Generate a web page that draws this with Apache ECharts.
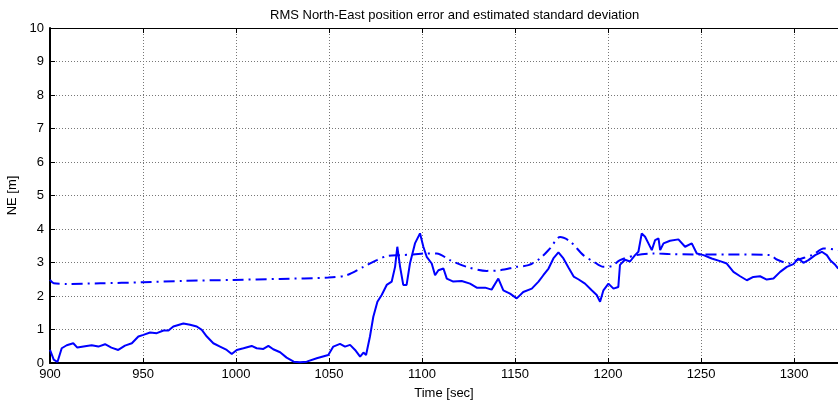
<!DOCTYPE html>
<html>
<head>
<meta charset="utf-8">
<script src="https://cdn.jsdelivr.net/npm/echarts@6/dist/echarts.min.js"></script>
<style>html,body{margin:0;padding:0;background:#fff;}#c{width:838px;height:400px;}</style>
</head>
<body>
<div id="c"></div>
<script>
// RMS North-East position error (solid)
var errTime = [900,902,902.7,904,906.3,909,912.5,914.7,919.7,922.4,926,929.6,933,936.7,940.3,944,947.5,950.2,953.8,957.4,961,963.7,966.3,971.7,975.3,978.9,981.6,984.3,987.8,991.4,995,997.7,1000.4,1004,1008.4,1011.1,1014.7,1017.4,1020,1023.7,1027.2,1031,1034.4,1038,1043.4,1049.6,1052.3,1055.9,1058.6,1061.3,1064,1066.7,1068.5,1069.9,1072,1073.8,1076,1078.3,1081,1083.7,1085.5,1086.7,1088.2,1089.9,1091.7,1093.5,1096.2,1098.9,1100.7,1102.5,1105.2,1107,1108.8,1111.5,1113.3,1116.8,1121.3,1125.8,1129.4,1133.9,1137.4,1141,1143.7,1147.3,1150.9,1154.4,1159,1162.6,1165.2,1168,1170.6,1173.3,1176,1178.7,1181.5,1184,1187.6,1191.2,1193.9,1195.7,1197.5,1200.2,1202.9,1205.5,1206.4,1209.1,1211.8,1214.5,1216.3,1218.1,1219.9,1221.7,1223.5,1225.3,1227.1,1228,1229.8,1233.3,1237.8,1241.4,1245,1247.7,1251.3,1255.7,1260.2,1263.8,1267.4,1271,1274.6,1278.1,1281.7,1285.3,1288.9,1292.5,1296.1,1299.6,1302.3,1305,1307.7,1311.3,1314.9,1317.6,1319.4,1322.1,1323.7];
var errValue = [0.39,0.1,0.05,0.03,0.44,0.53,0.59,0.46,0.51,0.53,0.49,0.56,0.46,0.39,0.52,0.59,0.79,0.84,0.91,0.89,0.97,0.97,1.09,1.18,1.14,1.09,0.99,0.79,0.59,0.49,0.39,0.27,0.39,0.44,0.51,0.44,0.42,0.51,0.41,0.32,0.16,0.04,0.02,0.04,0.14,0.24,0.49,0.57,0.49,0.54,0.39,0.19,0.31,0.24,0.79,1.38,1.83,2.03,2.33,2.43,2.87,3.47,2.87,2.33,2.33,2.97,3.57,3.87,3.47,3.17,2.97,2.62,2.77,2.82,2.52,2.43,2.45,2.37,2.25,2.25,2.19,2.52,2.17,2.07,1.93,2.12,2.22,2.43,2.62,2.82,3.12,3.3,3.12,2.85,2.58,2.5,2.37,2.17,2.03,1.83,2.17,2.37,2.22,2.27,2.93,3.08,3.03,3.22,3.32,3.87,3.77,3.57,3.37,3.67,3.72,3.37,3.57,3.65,3.69,3.47,3.57,3.27,3.22,3.12,3.04,2.97,2.72,2.59,2.47,2.57,2.59,2.49,2.52,2.72,2.87,2.95,3.12,2.99,3.07,3.22,3.32,3.22,3.07,2.93,2.82];
// Estimated standard deviation (dash-dot)
var stdTime = [900,902,909,927,950,971.7,998.6,1023.7,1049.6,1059.5,1068.5,1075.7,1081,1088.2,1095.3,1102.5,1107.9,1115,1124,1134.8,1142,1150.9,1157.2,1163.4,1168.8,1174.2,1179.6,1186.7,1192.1,1197.5,1202,1206.4,1215.4,1224.4,1233.3,1245.9,1263.8,1287.1,1290.7,1297.8,1301.4,1310.4,1315.8,1323.7];
var stdValue = [2.48,2.38,2.36,2.38,2.41,2.45,2.48,2.51,2.55,2.62,2.87,3.07,3.19,3.22,3.24,3.27,3.27,3.07,2.87,2.75,2.77,2.87,2.92,3.12,3.42,3.76,3.63,3.22,3.03,2.87,2.89,3.07,3.22,3.27,3.25,3.24,3.24,3.22,3.09,2.97,3.07,3.24,3.42,3.37];
var yTicks = [0,1,2,3,4,5,6,7,8,9,10];

function pairs(a,b){var r=[];for(var i=0;i<a.length;i++){r.push([a[i],b[i]]);}return r;}
var FONT = 'Liberation Sans';
var chart = echarts.init(document.getElementById('c'), null, {renderer:'canvas'});
chart.setOption({
  animation:false,
  backgroundColor:'#fff',
  title:{text:'RMS North-East position error and estimated standard deviation',left:265,top:4,
    textStyle:{fontFamily:FONT,fontSize:13,fontWeight:'normal',color:'#000'}},
  grid:{left:50,right:0,top:28,bottom:37,outerBoundsMode:'none',containLabel:false},
  xAxis:[{
    type:'value',min:900,max:1323.6,interval:50,position:'bottom',
    name:'Time [sec]',nameLocation:'middle',nameGap:24,
    nameTextStyle:{fontFamily:FONT,fontSize:13,color:'#000'},
    axisLine:{show:true,onZero:false,lineStyle:{color:'#000',width:2}},
    axisTick:{show:true,inside:true,length:5,lineStyle:{color:'#000',width:1}},
    axisLabel:{fontFamily:FONT,fontSize:13,color:'#000',margin:5,showMaxLabel:false,
      formatter:function(v){return String(v);}},
    splitLine:{show:true,lineStyle:{color:'#777',width:1,type:[1,2]}}
  },{
    type:'value',min:900,max:1323.6,interval:50,position:'top',
    axisLine:{show:true,onZero:false,lineStyle:{color:'#000',width:1}},
    axisTick:{show:true,inside:true,length:5,lineStyle:{color:'#000',width:1}},
    axisLabel:{show:false},splitLine:{show:false}
  }],
  yAxis:{
    type:'value',min:0,max:10,interval:1,
    name:'NE [m]',nameLocation:'middle',nameGap:27,nameRotate:90,
    nameTextStyle:{fontFamily:FONT,fontSize:13,color:'#000'},
    axisLine:{show:true,lineStyle:{color:'#000',width:2}},
    axisTick:{show:true,inside:true,length:5,lineStyle:{color:'#000',width:1}},
    axisLabel:{fontFamily:FONT,fontSize:13,color:'#000',margin:6,
      formatter:function(v){return yTicks.indexOf(v)>=0?String(v):'';}},
    splitLine:{show:true,lineStyle:{color:'#777',width:1,type:[1,2]}}
  },
  series:[{
    type:'line',name:'RMS error',data:pairs(errTime,errValue),showSymbol:false,
    lineStyle:{color:'#0000ff',width:2},itemStyle:{color:'#0000ff'},clip:true
  },{
    type:'line',name:'std',data:pairs(stdTime,stdValue),showSymbol:false,smooth:0.3,
    lineStyle:{color:'#0000ff',width:2,type:[11,5,2,5]},itemStyle:{color:'#0000ff'},clip:true
  }]
});
</script>
</body>
</html>
